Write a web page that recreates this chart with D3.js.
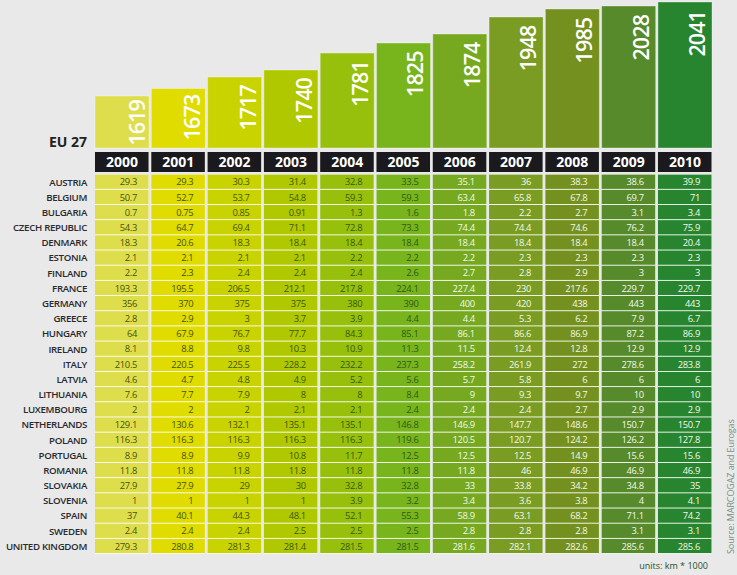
<!DOCTYPE html>
<html><head><meta charset="utf-8">
<script src="https://cdnjs.cloudflare.com/ajax/libs/d3/7.8.5/d3.min.js"></script>
<style>html,body{margin:0;padding:0;background:#e9e9e9}svg{display:block}text{font-family:"Open Sans",sans-serif}</style>
</head><body><svg id="c" width="737" height="575"></svg>
<script>
const years=[2000,2001,2002,2003,2004,2005,2006,2007,2008,2009,2010];
const totals=[1619,1673,1717,1740,1781,1825,1874,1948,1985,2028,2041];
const countries=["AUSTRIA","BELGIUM","BULGARIA","CZECH REPUBLIC","DENMARK","ESTONIA","FINLAND","FRANCE","GERMANY","GREECE","HUNGARY","IRELAND","ITALY","LATVIA","LITHUANIA","LUXEMBOURG","NETHERLANDS","POLAND","PORTUGAL","ROMANIA","SLOVAKIA","SLOVENIA","SPAIN","SWEDEN","UNITED KINGDOM"];
const austria=[29.3,29.3,30.3,31.4,32.8,33.5,35.1,36,38.3,38.6,39.9];
const belgium=[50.7,52.7,53.7,54.8,59.3,59.3,63.4,65.8,67.8,69.7,71];
const bulgaria=[0.7,0.75,0.85,0.91,1.3,1.6,1.8,2.2,2.7,3.1,3.4];
const czech=[54.3,64.7,69.4,71.1,72.8,73.3,74.4,74.4,74.6,76.2,75.9];
const denmark=[18.3,20.6,18.3,18.4,18.4,18.4,18.4,18.4,18.4,18.4,20.4];
const estonia=[2.1,2.1,2.1,2.1,2.2,2.2,2.2,2.3,2.3,2.3,2.3];
const finland=[2.2,2.3,2.4,2.4,2.4,2.6,2.7,2.8,2.9,3,3];
const france=[193.3,195.5,206.5,212.1,217.8,224.1,227.4,230,217.6,229.7,229.7];
const germany=[356,370,375,375,380,390,400,420,438,443,443];
const greece=[2.8,2.9,3,3.7,3.9,4.4,4.4,5.3,6.2,7.9,6.7];
const hungary=[64,67.9,76.7,77.7,84.3,85.1,86.1,86.6,86.9,87.2,86.9];
const ireland=[8.1,8.8,9.8,10.3,10.9,11.3,11.5,12.4,12.8,12.9,12.9];
const italy=[210.5,220.5,225.5,228.2,232.2,237.3,258.2,261.9,272,278.6,283.8];
const latvia=[4.6,4.7,4.8,4.9,5.2,5.6,5.7,5.8,6,6,6];
const lithuania=[7.6,7.7,7.9,8,8,8.4,9,9.3,9.7,10,10];
const luxembourg=[2,2,2,2.1,2.1,2.4,2.4,2.4,2.7,2.9,2.9];
const netherlands=[129.1,130.6,132.1,135.1,135.1,146.8,146.9,147.7,148.6,150.7,150.7];
const poland=[116.3,116.3,116.3,116.3,116.3,119.6,120.5,120.7,124.2,126.2,127.8];
const portugal=[8.9,8.9,9.9,10.8,11.7,12.5,12.5,12.5,14.9,15.6,15.6];
const romania=[11.8,11.8,11.8,11.8,11.8,11.8,11.8,46,46.9,46.9,46.9];
const slovakia=[27.9,27.9,29,30,32.8,32.8,33,33.8,34.2,34.8,35];
const slovenia=[1,1,1,1,3.9,3.2,3.4,3.6,3.8,4,4.1];
const spain=[37,40.1,44.3,48.1,52.1,55.3,58.9,63.1,68.2,71.1,74.2];
const sweden=[2.4,2.4,2.4,2.5,2.5,2.5,2.8,2.8,2.8,3.1,3.1];
const uk=[279.3,280.8,281.3,281.4,281.5,281.5,281.6,282.1,282.6,285.6,285.6];
const rows=[austria,belgium,bulgaria,czech,denmark,estonia,finland,france,germany,greece,hungary,ireland,italy,latvia,lithuania,luxembourg,netherlands,poland,portugal,romania,slovakia,slovenia,spain,sweden,uk];
const yearColors=["#dede4c","#e0dc00","#c9d300","#b0c800","#97c00c","#78b41c","#76a920","#7a9c22","#74911f","#568a2a","#26852e"];
const cellText=["#46540c","#46540c","#46560c","#3c580c","#38580c","#2f5a16","#f4f8ea","#f4f8ea","#f4f8ea","#f4f8ea","#f4f8ea"];

const svg=d3.select("#c");
const x=d3.scaleBand().domain(years).range([95,712]).paddingInner(0.04);
const y=d3.scaleBand().domain(countries).range([174.6,554]);
// The reference's bars are not strictly proportional, so the scale has a knot per total.
const barTop=d3.scaleLinear().domain(totals).range([96,88.5,77,70,53,43,34,17,9,6,2]);
const labelGap=d3.scaleLinear().domain([1619,1717,2041]).range([4,8,9]);
const labelInset=d3.scaleLinear().domain([1619,1717,1825,2041]).range([50,48.5,47,47]);
const barBase=148;

const bars=svg.append("g").selectAll("g").data(years).join("g");
bars.append("rect").attr("x",d=>x(d)).attr("width",x.bandwidth())
  .attr("y",(d,i)=>barTop(totals[i])).attr("height",(d,i)=>barBase-barTop(totals[i]))
  .attr("fill",(d,i)=>yearColors[i]).attr("stroke","#fff").attr("stroke-opacity",0.35).attr("stroke-width",1);
bars.append("text").text((d,i)=>totals[i])
  .attr("transform",(d,i)=>`translate(${x(d)+labelInset(totals[i])},${barTop(totals[i])+labelGap(totals[i])}) rotate(-90)`)
  .attr("text-anchor","end").attr("font-size",21.5).attr("font-weight",600).attr("letter-spacing",-0.9).attr("fill","#fff");

const heads=svg.append("g").selectAll("g").data(years).join("g");
heads.append("rect").attr("x",d=>x(d)).attr("width",x.bandwidth()-0.5).attr("y",152).attr("height",20).attr("fill","#1a1a1e");
heads.append("text").text(d=>d).attr("x",d=>x(d)+x.bandwidth()/2).attr("y",167)
  .attr("text-anchor","middle").attr("font-size",14).attr("font-weight",700).attr("fill","#fff");

svg.append("text").text("EU 27").attr("x",87).attr("y",147).attr("text-anchor","end")
  .attr("font-size",14).attr("font-weight",700).attr("fill","#222");

const cols=svg.append("g").selectAll("g").data(years).join("g");
cols.append("rect").attr("x",d=>x(d)).attr("width",x.bandwidth()-0.5).attr("y",174.6).attr("height",379.4).attr("fill","#fff");
cols.each(function(yr,j){
  const g=d3.select(this);
  g.selectAll("rect.cell").data(countries).join("rect").attr("class","cell")
    .attr("x",x(yr)).attr("width",x.bandwidth()-0.5)
    .attr("y",c=>y(c)).attr("height",y.bandwidth()-0.9).attr("fill",yearColors[j]);
  g.selectAll("text").data(countries).join("text")
    .text((c,i)=>rows[i][j])
    .attr("x",x(yr)+42).attr("y",c=>y(c)+y.bandwidth()/2+3.2)
    .attr("text-anchor","end").attr("font-size",9.4).attr("letter-spacing",-0.35).attr("font-weight",400)
    .attr("fill",cellText[j]);
});

svg.append("g").selectAll("text").data(countries).join("text").text(d=>d)
  .attr("x",87).attr("y",d=>y(d)+y.bandwidth()/2+3.4).attr("text-anchor","end")
  .attr("font-size",9.7).attr("letter-spacing",-0.33).attr("font-weight",600).attr("fill","#2a2a2e");

svg.append("text").text("units: km * 1000").attr("x",708).attr("y",569).attr("text-anchor","end")
  .attr("font-size",9).attr("fill","#24502a");
svg.append("text").text("Source: MARCOGAZ and Eurogas")
  .attr("transform","translate(734,554) rotate(-90)")
  .attr("font-size",9).attr("letter-spacing",-0.1).attr("fill","#7a8f7c");
</script></body></html>
